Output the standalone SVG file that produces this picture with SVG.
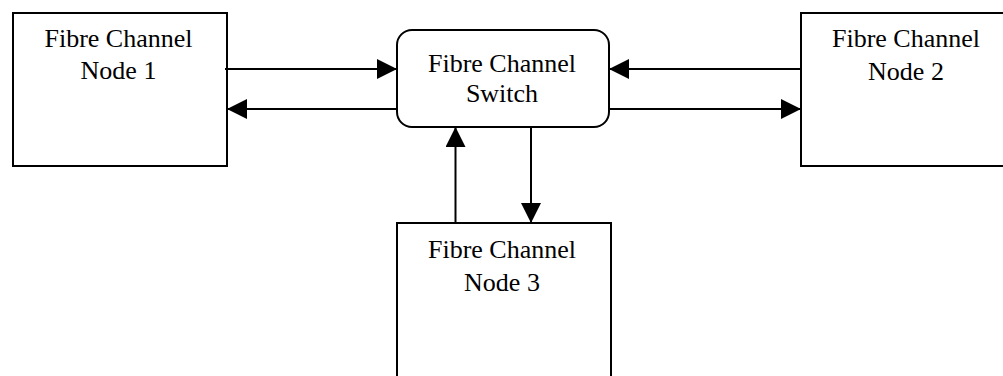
<svg xmlns="http://www.w3.org/2000/svg" width="1003" height="376" viewBox="0 0 1003 376">
<style>
.box{fill:#fff;stroke:#000;stroke-width:2}
.lbl{font-family:"Liberation Serif","Times New Roman",serif;font-size:26px;fill:#000;text-anchor:middle}
.con{stroke:#000;stroke-width:2;fill:none;marker-end:url(#ah)}
</style>
<defs>
<marker id="ah" viewBox="0 0 20 20" markerWidth="20" markerHeight="20" refX="20" refY="10" orient="auto" markerUnits="userSpaceOnUse">
<path d="M0,0 L20,10 L0,20 Z" fill="#000"/>
</marker>
</defs>
<rect width="1003" height="376" fill="#fff"/>
<g id="node1">
<rect class="box" x="13" y="13" width="214" height="153"/>
<text class="lbl" x="118.5" y="47">Fibre Channel</text>
<text class="lbl" x="118.5" y="79">Node 1</text>
</g>
<g id="switch">
<rect class="box" x="397" y="30" width="212" height="97" rx="15" ry="15"/>
<text class="lbl" x="502" y="72">Fibre Channel</text>
<text class="lbl" x="502" y="102">Switch</text>
</g>
<g id="node2">
<rect class="box" x="801" y="13" width="220" height="153"/>
<text class="lbl" x="906" y="47">Fibre Channel</text>
<text class="lbl" x="906" y="80">Node 2</text>
</g>
<g id="node3">
<rect class="box" x="397" y="223" width="214" height="170"/>
<text class="lbl" x="502" y="258">Fibre Channel</text>
<text class="lbl" x="502" y="291">Node 3</text>
</g>
<g id="connectors">
<line class="con" x1="225" y1="69" x2="397" y2="69"/>
<line class="con" x1="397" y1="109" x2="227" y2="109"/>
<line class="con" x1="801" y1="69" x2="609" y2="69"/>
<line class="con" x1="609" y1="109" x2="801" y2="109"/>
<line class="con" x1="455.5" y1="223" x2="455.5" y2="127"/>
<line class="con" x1="531" y1="127" x2="531" y2="223"/>
</g>
</svg>
